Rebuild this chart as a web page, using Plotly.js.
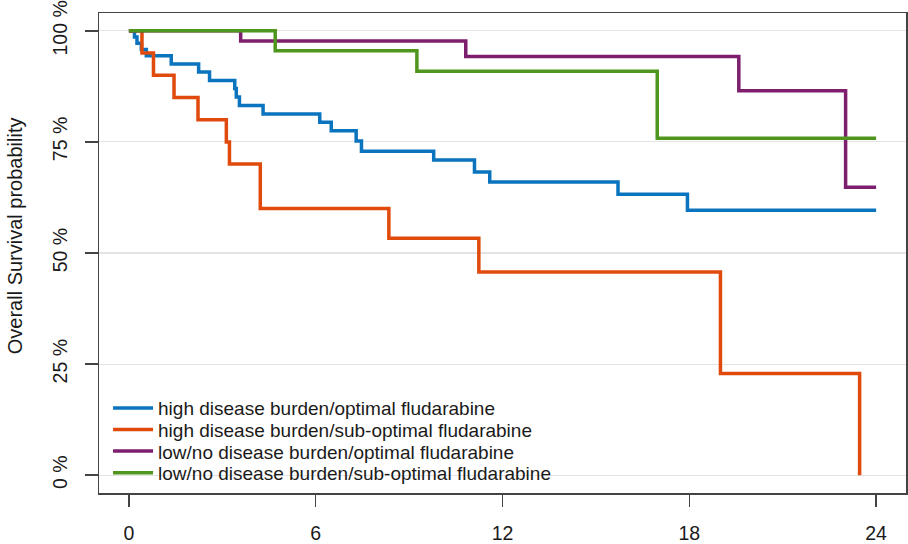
<!DOCTYPE html>
<html>
<head>
<meta charset="utf-8">
<script src="https://cdn.plot.ly/plotly-3.0.1.min.js"></script>
<style>html,body{margin:0;padding:0;background:#fff}#chart{width:908px;height:544px}</style>
</head>
<body>
<div id="chart"></div>
<script>
// ---- data (months, survival %) ----
const seriesNames = [
  "high disease burden/optimal fludarabine",
  "high disease burden/sub-optimal fludarabine",
  "low/no disease burden/optimal fludarabine",
  "low/no disease burden/sub-optimal fludarabine"
];
const highOptT = [0, 0.18, 0.26, 0.40, 0.56, 1.36, 2.24, 2.59, 3.40, 3.45, 3.55, 4.31, 6.13, 6.50, 7.30, 7.47, 9.79, 11.10, 11.59, 15.71, 17.94, 24];
const highOptS = [100, 98.6, 97.2, 95.8, 94.4, 92.5, 90.7, 88.8, 87.0, 85.1, 83.2, 81.3, 79.4, 77.5, 75.2, 72.9, 70.9, 68.2, 66.0, 63.2, 59.6, 59.6];
const highSubT = [0, 0.42, 0.79, 1.45, 2.22, 3.13, 3.23, 4.22, 8.35, 11.24, 19.0, 23.47];
const highSubS = [100, 95, 90, 85, 80, 75, 70, 60, 53.3, 45.7, 22.9, 0];
const lowOptT = [0, 3.59, 10.82, 19.59, 23.02, 24];
const lowOptS = [100, 97.7, 94.2, 86.5, 64.8, 64.8];
const lowSubT = [0, 4.70, 9.25, 16.97, 24];
const lowSubS = [100, 95.5, 90.9, 75.8, 75.8];
const xTicks = [0, 6, 12, 18, 24];
const yTicks = [0, 25, 50, 75, 100];
const yTickLabels = ["0 %", "25 %", "50 %", "75 %", "100 %"];
const yTitle = "Overall Survival probability";

const colors = ["#0a74bf", "#e04a0c", "#7e1e6e", "#4f961e"];
const xs = [highOptT, highSubT, lowOptT, lowSubT];
const ys = [highOptS, highSubS, lowOptS, lowSubS];
const legendIds = ["legend", "legend2", "legend3", "legend4"];

const traces = seriesNames.map((name, i) => ({
  type: "scatter",
  mode: "lines",
  name: name,
  x: xs[i],
  y: ys[i],
  line: {shape: "hv", color: colors[i], width: 3.5},
  legend: legendIds[i],
  hoverinfo: "skip"
}));

const font = {family: "'Liberation Sans', Arial, sans-serif", color: "#1a1a1a"};
const legendRowY = [0.177, 0.132, 0.087, 0.042];
function legendObj(y) {
  return {
    x: 0.0112, y: y, xanchor: "left", yanchor: "middle",
    bgcolor: "rgba(0,0,0,0)", borderwidth: 0, itemwidth: 40,
    font: Object.assign({}, font, {size: 19}),
    itemclick: false, itemdoubleclick: false
  };
}

const layout = {
  width: 908, height: 544,
  margin: {l: 99, r: 2, t: 13, b: 51},
  paper_bgcolor: "#fff", plot_bgcolor: "#fff",
  font: Object.assign({}, font, {size: 19.5}),
  showlegend: true,
  legend: legendObj(legendRowY[0]),
  legend2: legendObj(legendRowY[1]),
  legend3: legendObj(legendRowY[2]),
  legend4: legendObj(legendRowY[3]),
  xaxis: {
    range: [-0.96, 24.96], tickvals: xTicks, ticktext: xTicks.map(String),
    showgrid: false, zeroline: false,
    showline: true, mirror: true, linecolor: "#444", linewidth: 1.5,
    ticks: "outside", ticklen: 12, tickwidth: 1.5, tickcolor: "#444",
    ticklabelstandoff: 10,
    tickfont: Object.assign({}, font, {size: 19.5})
  },
  yaxis: {
    range: [-4, 104], tickvals: yTicks, ticktext: yTickLabels,
    showgrid: true, gridcolor: "#e3e3e3", gridwidth: 1.2, zeroline: false,
    showline: true, mirror: true, linecolor: "#444", linewidth: 1.5,
    ticks: "outside", ticklen: 13, tickwidth: 1.5, tickcolor: "#444",
    tickangle: -90, ticklabelstandoff: 10,
    tickfont: Object.assign({}, font, {size: 19.5})
  },
  annotations: [{
    text: yTitle, xref: "paper", yref: "paper", x: -0.104, y: 0.535,
    xanchor: "center", yanchor: "middle", textangle: -90, showarrow: false,
    font: Object.assign({}, font, {size: 20})
  }]
};

Plotly.newPlot("chart", traces, layout, {staticPlot: true, displayModeBar: false});
</script>
</body>
</html>
